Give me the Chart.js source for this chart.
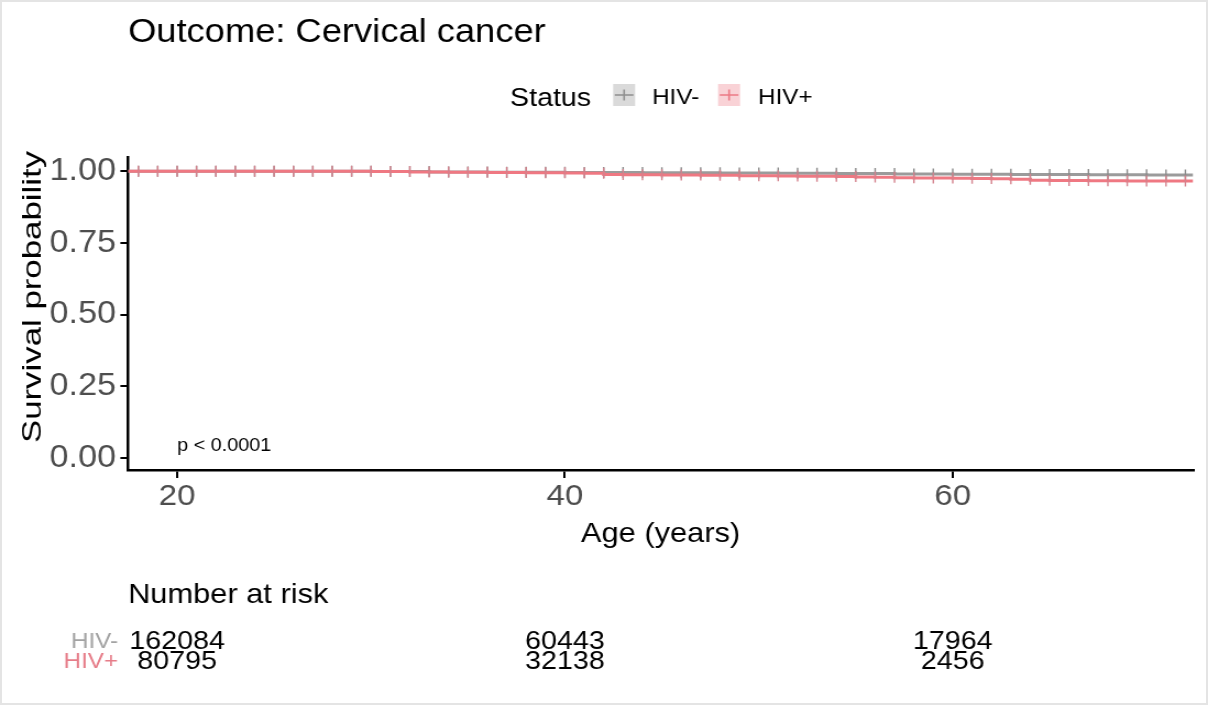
<!DOCTYPE html>
<html>
<head>
<meta charset="utf-8">
<script src="https://cdn.jsdelivr.net/npm/chart.js@4.4.0/dist/chart.umd.min.js"></script>
<style>
    html, body { margin: 0; padding: 0; background: #fff; }
    #page { position: relative; width: 1208px; height: 705px; overflow: hidden; background: #fff; }
    /* the reference text is wider than Arial, so draw narrow and stretch */
    #stretch { position: absolute; left: 0; top: 0; width: 1098px; height: 705px; transform: scaleX(1.10018); transform-origin: 0 0; }
    #frame { position: absolute; left: 0; top: 0; width: 1208px; height: 705px; box-sizing: border-box; border: 2px solid #e4e4e4; pointer-events: none; }
</style>
</head>
<body>
<div id="page">
    <div id="stretch"><canvas id="kmChart"></canvas></div>
    <div id="frame"></div>
</div>
<script>
// Ages with a censoring mark
const ages = [18, 19, 20, 21, 22, 23, 24, 25, 26, 27, 28, 29, 30,
    31, 32, 33, 34, 35, 36, 37, 38, 39, 40, 41, 42,
    43, 44, 45, 46, 47, 48, 49, 50,
    51, 52, 53, 54, 55, 56, 57, 58, 59, 60,
    61, 62, 63, 64, 65, 66, 67, 68, 69, 70, 71, 72];

// Survival probability, HIV-
const hivNeg = [1.000, 1.000, 1.000, 1.000, 1.000, 1.000, 1.000, 1.000, 1.000, 1.000, 1.000, 1.000, 1.000,
    0.999, 0.999, 0.999, 0.998, 0.998, 0.998, 0.997, 0.997, 0.997, 0.997, 0.996, 0.996,
    0.996, 0.996, 0.995, 0.995, 0.995, 0.995, 0.994, 0.994,
    0.994, 0.993, 0.993, 0.993, 0.992, 0.992, 0.992, 0.991, 0.991, 0.991,
    0.990, 0.990, 0.990, 0.989, 0.989, 0.989, 0.989, 0.988, 0.988, 0.988, 0.987, 0.987];

// Survival probability, HIV+
const hivPos = [1.000, 1.000, 1.000, 1.000, 1.000, 1.000, 1.000, 1.000, 1.000, 1.000, 1.000, 1.000, 1.000,
    0.999, 0.999, 0.998, 0.998, 0.997, 0.997, 0.996, 0.996, 0.995, 0.995, 0.994, 0.993,
    0.989, 0.988, 0.988, 0.987, 0.987, 0.986, 0.986, 0.985,
    0.985, 0.984, 0.983, 0.983, 0.982, 0.980, 0.979, 0.978, 0.977, 0.977,
    0.976, 0.975, 0.974, 0.972, 0.969, 0.968, 0.968, 0.967, 0.967, 0.966, 0.966, 0.966];

const xTicks = [20, 40, 60];
const yTicks = [0, 0.25, 0.5, 0.75, 1];
const xMin = 17.47;
const xMax = 72.4;

// Number at risk table
const riskGroups = ['HIV-', 'HIV+'];
const riskAges = [20, 40, 60];
const riskNeg = [162084, 60443, 17964];
const riskPos = [80795, 32138, 2456];

const FONT = '"Liberation Sans", Arial, Helvetica, sans-serif';
const GREY = '#9b9b9b';
const PINK = '#ef7882';

function kmPoints(values) {
    const pts = [{ x: xMin, y: values[0] }];
    ages.forEach((a, i) => pts.push({ x: a, y: values[i] }));
    pts.push({ x: xMax, y: values[values.length - 1] });
    return pts;
}

function censorRadius(ctx) {
    return Number.isInteger(ctx.raw.x) ? 5.5 : 0;
}

// Title, legend, y title, p-value and the risk table
const kmExtras = {
    id: 'kmExtras',
    afterDraw(chart) {
        const { ctx, scales: { x } } = chart;
        ctx.save();
        ctx.textBaseline = 'alphabetic';
        ctx.textAlign = 'left';
        ctx.fillStyle = '#000';

        ctx.font = '33px ' + FONT;
        ctx.fillText('Outcome: Cervical cancer', 116.4, 42);

        // legend
        ctx.font = '26px ' + FONT;
        ctx.fillText('Status', 463.6, 106);
        const keys = [
            { label: 'HIV-', fill: '#dadada', line: '#8f8f8f', x: 557.3, tx: 592.7 },
            { label: 'HIV+', fill: '#f9d2d6', line: '#ec7a85', x: 652.7, tx: 689.1 }
        ];
        keys.forEach(k => {
            ctx.fillStyle = k.fill;
            ctx.fillRect(k.x, 84, 20, 22);
            ctx.strokeStyle = k.line;
            ctx.lineWidth = 1.6;
            ctx.beginPath();
            ctx.moveTo(k.x + 1.5, 95);
            ctx.lineTo(k.x + 18.5, 95);
            ctx.moveTo(k.x + 10, 89.5);
            ctx.lineTo(k.x + 10, 100.5);
            ctx.stroke();
            ctx.fillStyle = '#000';
            ctx.font = '22px ' + FONT;
            ctx.fillText(k.label, k.tx, 104);
        });

        // y axis title, drawn long and narrow like the reference
        ctx.save();
        ctx.translate(30, 297);
        ctx.rotate(-Math.PI / 2);
        ctx.scale(1.45, 1);
        ctx.textAlign = 'center';
        ctx.textBaseline = 'middle';
        ctx.font = '24px ' + FONT;
        ctx.fillText('Survival probability', 0, 0);
        ctx.restore();

        // p-value
        ctx.font = '18px ' + FONT;
        ctx.fillText('p < 0.0001', x.getPixelForValue(20), 451);

        // number at risk
        ctx.font = '28px ' + FONT;
        ctx.fillText('Number at risk', 116.4, 603);

        const rows = [
            { name: riskGroups[0], color: '#a3a3a3', values: riskNeg, base: 649 },
            { name: riskGroups[1], color: '#e67d89', values: riskPos, base: 669 }
        ];
        rows.forEach(r => {
            ctx.textAlign = 'right';
            ctx.fillStyle = r.color;
            ctx.font = '22px ' + FONT;
            ctx.fillText(r.name, 107.3, r.base - 1);
            ctx.textAlign = 'center';
            ctx.fillStyle = '#000';
            ctx.font = '26px ' + FONT;
            r.values.forEach((v, i) => {
                ctx.fillText(String(v), x.getPixelForValue(riskAges[i]), r.base);
            });
        });
        ctx.restore();
    }
};

const ctx = document.getElementById('kmChart').getContext('2d');
new Chart(ctx, {
    type: 'line',
    data: {
        datasets: [
            {
                label: 'HIV+',
                data: kmPoints(hivPos),
                borderColor: PINK,
                borderWidth: 3,
                stepped: 'after',
                pointStyle: 'line',
                rotation: 90,
                pointRadius: censorRadius,
                pointBorderColor: '#d4828d',
                pointBorderWidth: 1.4,
                pointHoverRadius: 0,
                order: 0
            },
            {
                label: 'HIV-',
                data: kmPoints(hivNeg),
                borderColor: GREY,
                borderWidth: 3,
                stepped: 'after',
                pointStyle: 'line',
                rotation: 90,
                pointRadius: censorRadius,
                pointBorderColor: '#8a8a8a',
                pointBorderWidth: 1.4,
                pointHoverRadius: 0,
                order: 1
            }
        ]
    },
    options: {
        responsive: true,
        maintainAspectRatio: false,
        animation: false,
        events: [],
        layout: {
            padding: { left: 0, right: 13.5, top: 157, bottom: 145 }
        },
        plugins: {
            legend: { display: false },
            tooltip: { enabled: false },
            title: { display: false }
        },
        scales: {
            x: {
                type: 'linear',
                min: xMin,
                max: xMax,
                afterBuildTicks: (scale) => { scale.ticks = xTicks.map(v => ({ value: v })); },
                afterFit: (scale) => { scale.height = 90; },
                grid: { drawOnChartArea: false, drawTicks: true, tickLength: 8, color: '#000', lineWidth: 2 },
                border: { display: true, color: '#000', width: 2.5 },
                ticks: {
                    color: '#4d4d4d',
                    font: { family: FONT, size: 30 },
                    padding: 1,
                    maxRotation: 0
                },
                title: {
                    display: true,
                    text: 'Age (years)',
                    color: '#000',
                    font: { family: FONT, size: 28, lineHeight: 1 },
                    padding: { top: 0, bottom: 12 }
                }
            },
            y: {
                min: -0.042,
                max: 1.05,
                afterBuildTicks: (scale) => { scale.ticks = yTicks.map(v => ({ value: v })); },
                afterFit: (scale) => { scale.width = 116.4; },
                grid: { drawOnChartArea: false, drawTicks: true, tickLength: 7, color: '#000', lineWidth: 2 },
                border: { display: true, color: '#000', width: 2.5 },
                ticks: {
                    color: '#4d4d4d',
                    font: { family: FONT, size: 31 },
                    padding: 4,
                    callback: (v) => Number(v).toFixed(2)
                },
                title: { display: false }
            }
        }
    },
    plugins: [kmExtras]
});
</script>
</body>
</html>
